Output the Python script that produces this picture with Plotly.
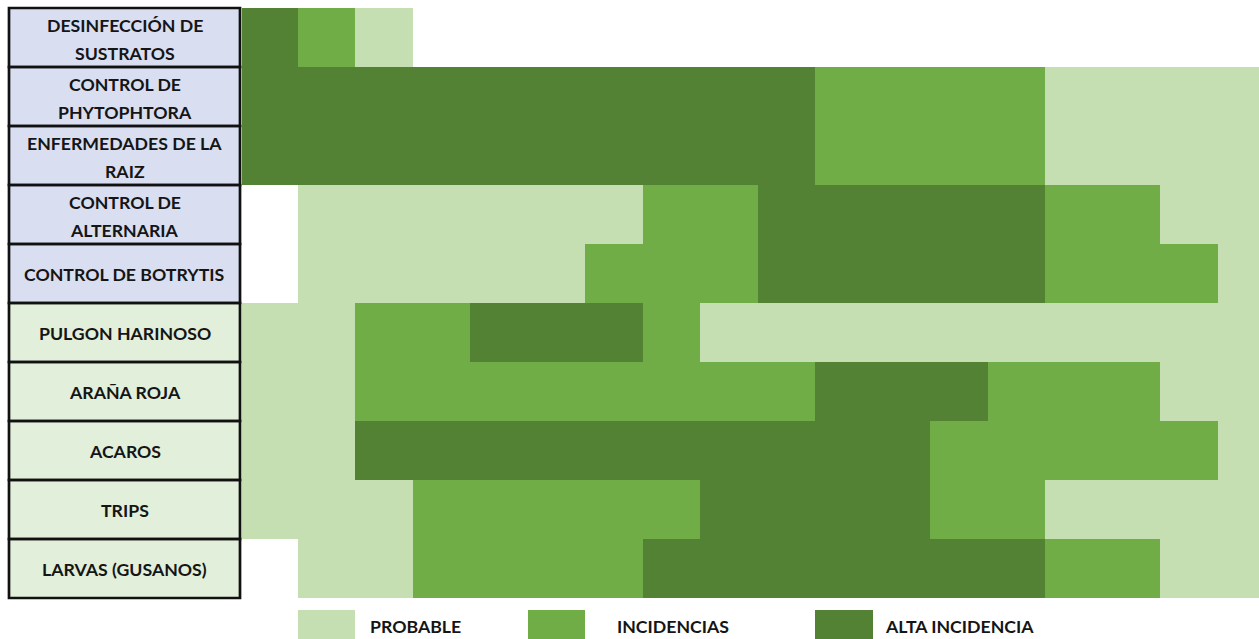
import plotly.graph_objects as go

# ---------------- data ----------------
row_labels = [
    "DESINFECCIÓN DE<br>SUSTRATOS",
    "CONTROL DE<br>PHYTOPHTORA",
    "ENFERMEDADES DE LA<br>RAIZ",
    "CONTROL DE<br>ALTERNARIA",
    "CONTROL DE BOTRYTIS",
    "PULGON HARINOSO",
    "ARAÑA ROJA",
    "ACAROS",
    "TRIPS",
    "LARVAS (GUSANOS)",
]
# label group: 0 = enfermedades (lavender), 1 = plagas (light green)
label_group = [0, 0, 0, 0, 0, 1, 1, 1, 1, 1]

# level per period: 0 = none, 1 = probable, 2 = incidencias, 3 = alta incidencia
desinfeccion = [3, 2, 1, 0, 0, 0, 0, 0, 0, 0, 0, 0, 0, 0, 0, 0, 0, 0]
phytophtora  = [3, 3, 3, 3, 3, 3, 3, 3, 3, 3, 2, 2, 2, 2, 1, 1, 1, 1]
raiz         = [3, 3, 3, 3, 3, 3, 3, 3, 3, 3, 2, 2, 2, 2, 1, 1, 1, 1]
alternaria   = [0, 1, 1, 1, 1, 1, 1, 2, 2, 3, 3, 3, 3, 3, 2, 2, 1, 1]
botrytis     = [0, 1, 1, 1, 1, 1, 2, 2, 2, 3, 3, 3, 3, 3, 2, 2, 2, 1]
pulgon       = [1, 1, 2, 2, 3, 3, 3, 2, 1, 1, 1, 1, 1, 1, 1, 1, 1, 1]
arana        = [1, 1, 2, 2, 2, 2, 2, 2, 2, 2, 3, 3, 3, 2, 2, 2, 1, 1]
acaros       = [1, 1, 3, 3, 3, 3, 3, 3, 3, 3, 3, 3, 2, 2, 2, 2, 2, 1]
trips        = [1, 1, 1, 2, 2, 2, 2, 2, 3, 3, 3, 3, 2, 2, 1, 1, 1, 1]
larvas       = [0, 1, 1, 2, 2, 2, 2, 3, 3, 3, 3, 3, 3, 3, 2, 2, 1, 1]

legend_levels = [0, 1, 0, 0, 0, 2, 0, 0, 0, 0, 3, 0, 0, 0, 0, 0, 0, 0]
legend_names = ["PROBABLE", "INCIDENCIAS", "ALTA INCIDENCIA"]

# ---------------- styles ----------------
W, H = 1259, 639
LIGHT, MED, DARK = "#C5DFB3", "#70AD47", "#548235"
LAV, PALE = "#D9DEF1", "#E2EFDA"
FONT = "Lato"
TXT = "#151515"
FS = 17.7

rows = [desinfeccion, phytophtora, raiz, alternaria, botrytis,
        pulgon, arana, acaros, trips, larvas]
z = [[(v if v > 0 else None) for v in r] for r in rows]
ncol = len(desinfeccion)
cols = list(range(ncol))
nrow = len(rows)

scale = [[0, LIGHT], [0.5, MED], [1, DARK]]

x0_px, x1_px = 240, W
top_px, bot_px = 8, 598
colw = 57.5
rowh = (bot_px - top_px) / nrow

fig = go.Figure()

fig.add_trace(go.Heatmap(
    z=z, x=cols, y=list(range(nrow)), zmin=1, zmax=3,
    colorscale=scale, showscale=False, hoverinfo="skip",
    xaxis="x", yaxis="y"))

# label column
fig.add_trace(go.Heatmap(
    z=[[g] for g in label_group], x=[0], y=list(range(nrow)),
    zmin=0, zmax=1, colorscale=[[0, LAV], [1, PALE]], showscale=False,
    hoverinfo="skip", xaxis="x2", yaxis="y2"))

# legend row
fig.add_trace(go.Heatmap(
    z=[[(v if v > 0 else None) for v in legend_levels]], x=cols, y=[0],
    zmin=1, zmax=3, colorscale=scale, showscale=False, hoverinfo="skip",
    xaxis="x", yaxis="y3"))

ext = 2.0  # px extension so borders are not clipped
lab_l, lab_r = 9, 240
x2w = lab_r - lab_l
fig.update_layout(
    width=W, height=H, margin=dict(l=0, r=0, t=0, b=0),
    paper_bgcolor="white", plot_bgcolor="white", showlegend=False,
    xaxis=dict(domain=[x0_px / W, 1], range=[-0.5, -0.5 + (x1_px - x0_px) / colw],
               visible=False, fixedrange=True),
    yaxis=dict(domain=[(H - bot_px) / H, (H - top_px) / H], range=[nrow - 0.5, -0.5],
               visible=False, fixedrange=True),
    xaxis2=dict(domain=[(lab_l - ext) / W, (lab_r + ext) / W],
                range=[-0.5 - ext / x2w, 0.5 + ext / x2w], visible=False,
                anchor="y2", fixedrange=True),
    yaxis2=dict(domain=[(H - bot_px - ext) / H, (H - top_px + ext) / H],
                range=[nrow - 0.5 + ext / rowh, -0.5 - ext / rowh], visible=False,
                anchor="x2", fixedrange=True),
    yaxis3=dict(domain=[0, (H - 610) / H], range=[0.5, -0.5], visible=False,
                anchor="x", fixedrange=True),
)

shapes = []
for i in range(nrow):
    shapes.append(dict(type="rect", xref="x2", yref="y2", x0=-0.5, x1=0.5,
                       y0=i - 0.5, y1=i + 0.5,
                       line=dict(color="#111111", width=2.7), layer="above"))
fig.update_layout(shapes=shapes)

# row labels (two-line labels get Excel-like line spacing)
line_gap = 28
for i, lab in enumerate(row_labels):
    parts = lab.split("<br>")
    n = len(parts)
    for k, p in enumerate(parts):
        off = (k - (n - 1) / 2) * line_gap + (2 if n > 1 else 1)
        fig.add_annotation(x=0, y=i, xref="x2", yref="y2", text=p,
                           showarrow=False, xanchor="center", yanchor="middle",
                           yshift=-off,
                           font=dict(family=FONT, size=FS, color=TXT, weight="bold"))

legend_x = [1.73, 6.02, 10.68]
for name, xv in zip(legend_names, legend_x):
    fig.add_annotation(x=xv, y=0, xref="x", yref="y3", text=name,
                       showarrow=False, xanchor="left", yanchor="middle",
                       yshift=-2,
                       font=dict(family=FONT, size=FS, color=TXT, weight="bold"))

fig.write_html("out.html", config={"displayModeBar": False},
               post_script="document.body.style.margin='0';")
